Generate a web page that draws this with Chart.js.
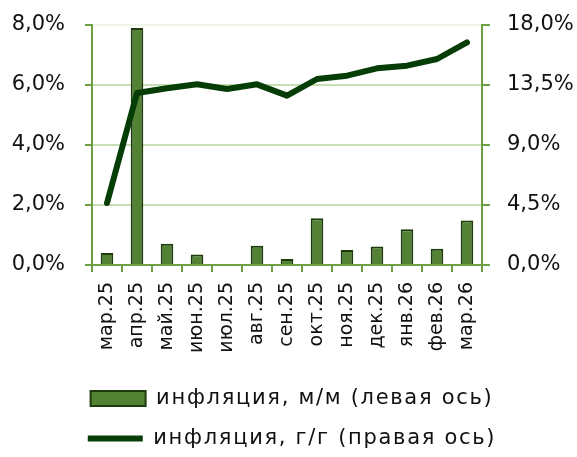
<!DOCTYPE html>
<html>
<head>
<meta charset="utf-8">
<script src="https://cdn.jsdelivr.net/npm/chart.js@4"></script>
<style>
  html, body { margin: 0; padding: 0; background: #ffffff; }
  #wrap { width: 577px; height: 457px; }
</style>
</head>
<body>
<div id="wrap"><canvas id="inflChart"></canvas></div>
<script>
// categories
const months = ['мар.25', 'апр.25', 'май.25', 'июн.25', 'июл.25', 'авг.25', 'сен.25',
  'окт.25', 'ноя.25', 'дек.25', 'янв.26', 'фев.26', 'мар.26'];
// month-on-month, % (left axis)
const momValues = [0.40, 7.90, 0.71, 0.35, 0.00, 0.64, 0.20, 1.56, 0.50, 0.62, 1.19, 0.54, 1.48];
// year-on-year, % (right axis)
const yoyValues = [4.65, 12.90, 13.25, 13.55, 13.20, 13.55, 12.70, 13.95, 14.20, 14.75, 14.95, 15.45, 16.70];

const momLabel = 'инфляция, м/м (левая ось)';
const yoyLabel = 'инфляция, г/г (правая ось)';

const axisGreen = '#6f9f45';
const gridGreen = '#c6e0b4';
const fontFamily = '"DejaVu Sans", sans-serif';

Chart.defaults.font.family = fontFamily;
Chart.defaults.color = '#111111';

function pct(v) {
  return v.toFixed(1).replace('.', ',') + '%';
}

// legend text in the original is tracked out a little
const legendSpacing = {
  id: 'legendSpacing',
  beforeUpdate(chart) {
    const lg = chart.legend;
    if (!lg || lg._spaced) return;
    lg._spaced = true;
    ['fit', 'draw'].forEach((fn) => {
      const orig = lg[fn].bind(lg);
      lg[fn] = (...args) => {
        const c = chart.ctx;
        const prev = c.letterSpacing;
        c.letterSpacing = '1.7px';
        const r = orig(...args);
        c.letterSpacing = prev;
        return r;
      };
    });
  }
};

// fixed axis widths, no extra label padding at the top
function fitY(width) {
  return (scale) => {
    scale.width = width;
    scale.paddingTop = 0;
    scale.paddingBottom = 0;
  };
}

document.addEventListener('DOMContentLoaded', () => {
  const ctx = document.getElementById('inflChart').getContext('2d');
  new Chart(ctx, {
    type: 'bar',
    plugins: [legendSpacing],
    data: {
      labels: months,
      datasets: [
        {
          type: 'bar',
          label: momLabel,
          data: momValues,
          yAxisID: 'yLeft',
          backgroundColor: '#548235',
          borderColor: '#1d3b0b',
          borderWidth: 2,
          borderSkipped: 'bottom',
          categoryPercentage: 1.0,
          barPercentage: 0.42,
          order: 1
        },
        {
          type: 'line',
          label: yoyLabel,
          data: yoyValues,
          yAxisID: 'yRight',
          borderColor: '#063d06',
          backgroundColor: '#063d06',
          borderWidth: 6,
          borderCapStyle: 'round',
          borderJoinStyle: 'round',
          pointRadius: 0,
          pointHoverRadius: 0,
          tension: 0,
          fill: false,
          order: 0
        }
      ]
    },
    options: {
      responsive: true,
      maintainAspectRatio: false,
      animation: false,
      layout: { padding: { left: 10, right: 3, top: 25, bottom: -2 } },
      plugins: {
        tooltip: { enabled: false },
        legend: {
          position: 'bottom',
          labels: {
            usePointStyle: true,
            pointStyleWidth: 55,
            boxHeight: 15,
            padding: 19,
            color: '#111111',
            font: { size: 21, family: fontFamily },
            sort: (a, b) => a.datasetIndex - b.datasetIndex,
            generateLabels: (chart) => {
              const items = Chart.defaults.plugins.legend.labels.generateLabels(chart);
              items.forEach((it) => {
                it.pointStyle = it.datasetIndex === 0 ? 'rect' : 'line';
              });
              return items;
            }
          }
        }
      },
      scales: {
        x: {
          offset: true,
          afterFit: (scale) => { scale.height = 104; },
          grid: {
            offset: true,
            drawOnChartArea: false,
            tickLength: 7,
            tickColor: axisGreen,
            lineWidth: 2
          },
          border: { color: axisGreen, width: 2 },
          ticks: {
            minRotation: 90,
            maxRotation: 90,
            autoSkip: false,
            padding: 10,
            color: '#111111',
            font: { size: 19 }
          }
        },
        yLeft: {
          position: 'left',
          min: 0,
          max: 8,
          afterFit: fitY(82),
          grid: {
            color: (c) => (c.tick && c.tick.value === 8 ? '#eef6e8' : gridGreen),
            lineWidth: 2,
            tickLength: 7,
            tickColor: axisGreen
          },
          border: { color: axisGreen, width: 2 },
          ticks: {
            stepSize: 2,
            padding: 20,
            color: '#111111',
            font: { size: 21 },
            callback: (v) => pct(v)
          }
        },
        yRight: {
          position: 'right',
          min: 0,
          max: 18,
          afterFit: fitY(92),
          grid: {
            drawOnChartArea: false,
            lineWidth: 2,
            tickLength: 8,
            tickColor: axisGreen
          },
          border: { color: axisGreen, width: 2 },
          ticks: {
            stepSize: 4.5,
            padding: 17,
            color: '#111111',
            font: { size: 21 },
            callback: (v) => pct(v)
          }
        }
      }
    }
  });
});
</script>
</body>
</html>
